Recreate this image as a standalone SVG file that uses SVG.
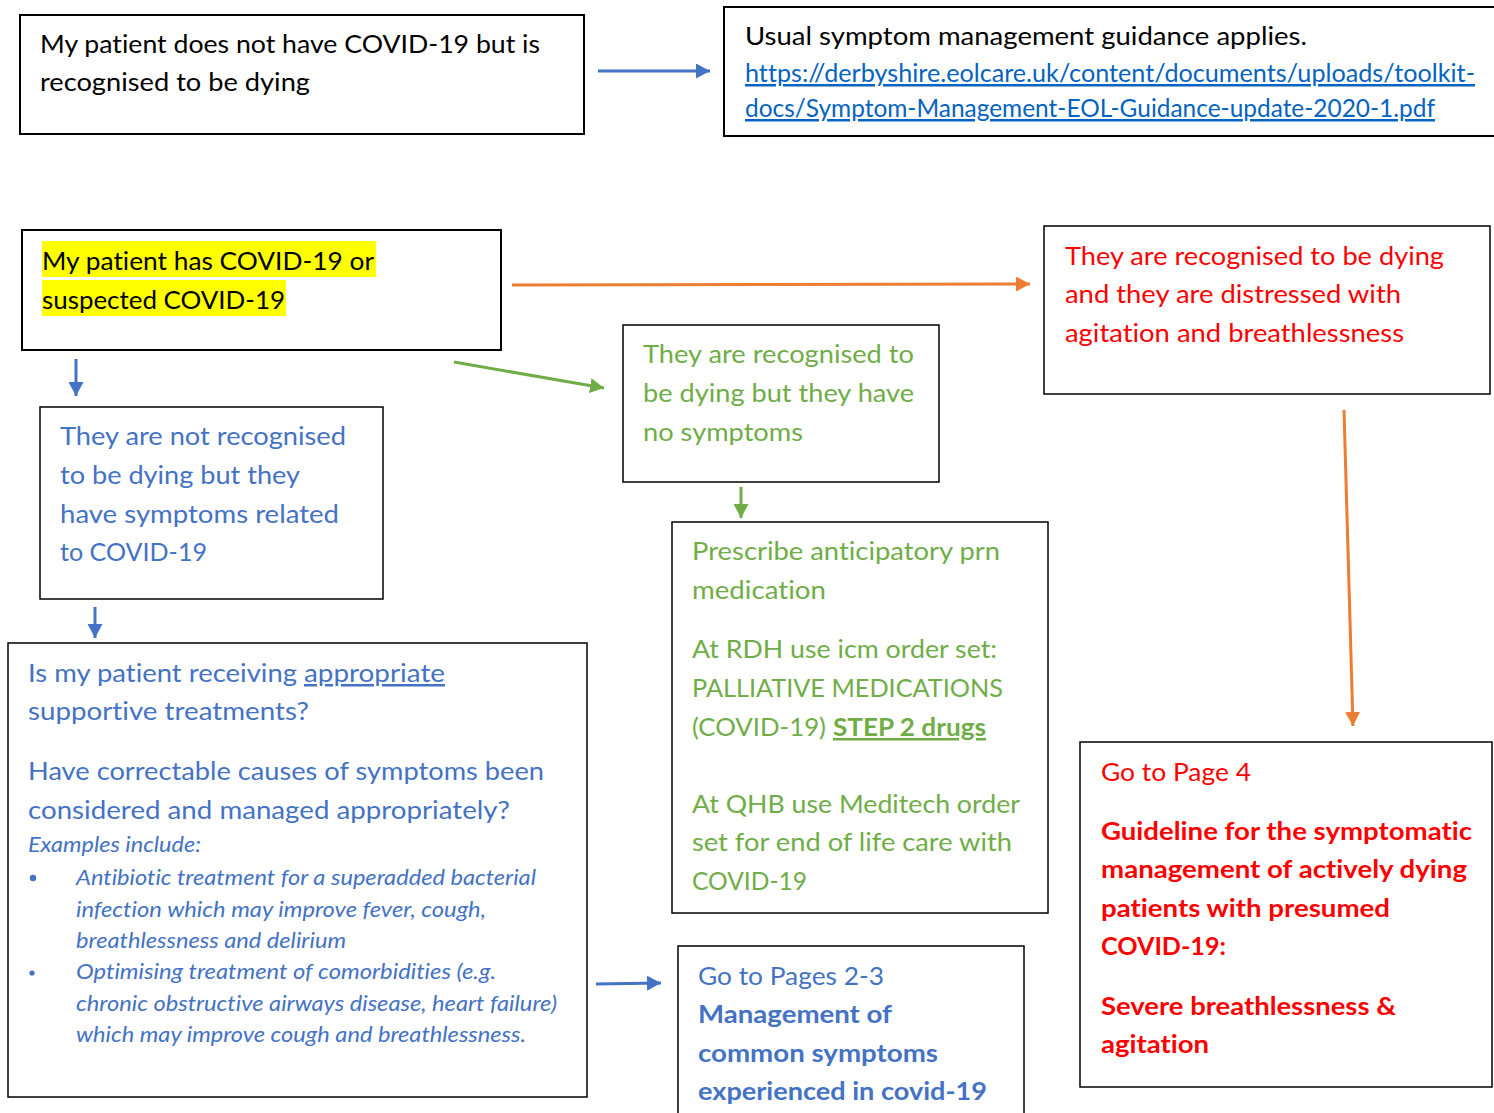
<svg xmlns="http://www.w3.org/2000/svg" width="1494" height="1113" viewBox="0 0 1494 1113">
<style>
text{font-family:Lato,"Open Sans","Liberation Sans",sans-serif;font-size:25px;font-variant-ligatures:none}
.k{fill:#000}
.b{fill:#4472C4}
.g{fill:#70AD47}
.r{fill:#FF0000}
.l{fill:#0563C1;text-decoration:underline}
.bold{font-weight:bold}
.it{font-style:italic;font-size:20.5px}
.box{fill:#fff;stroke:#000;stroke-width:1.5}
.box2{fill:#fff;stroke:#000;stroke-width:2}
.cb{fill:none;stroke:#4472C4;stroke-width:3}
.co{fill:none;stroke:#ED7D31;stroke-width:3}
.cg{fill:none;stroke:#70AD47;stroke-width:3}
</style>
<defs>
<marker id="ab" markerUnits="userSpaceOnUse" markerWidth="15" markerHeight="15" refX="14" refY="7.5" orient="auto"><path d="M0,0 L14,7.5 L0,15 z" fill="#4472C4"/></marker>
<marker id="ao" markerUnits="userSpaceOnUse" markerWidth="15" markerHeight="15" refX="14" refY="7.5" orient="auto"><path d="M0,0 L14,7.5 L0,15 z" fill="#ED7D31"/></marker>
<marker id="ag" markerUnits="userSpaceOnUse" markerWidth="15" markerHeight="15" refX="14" refY="7.5" orient="auto"><path d="M0,0 L14,7.5 L0,15 z" fill="#70AD47"/></marker>
</defs>
<rect width="1494" height="1113" fill="#fff"/>

<g id="connectors">
<line class="cb" x1="598" y1="71" x2="710" y2="71" marker-end="url(#ab)"/>
<line class="co" x1="512" y1="285" x2="1030" y2="284" marker-end="url(#ao)"/>
<line class="cb" x1="76" y1="359" x2="76" y2="396" marker-end="url(#ab)"/>
<line class="cg" x1="454" y1="362" x2="604" y2="388" marker-end="url(#ag)"/>
<line class="cb" x1="95" y1="607" x2="95" y2="638" marker-end="url(#ab)"/>
<line class="cg" x1="741" y1="487" x2="741" y2="518" marker-end="url(#ag)"/>
<line class="co" x1="1344" y1="410" x2="1353" y2="726" marker-end="url(#ao)"/>
<line class="cb" x1="596" y1="984" x2="661" y2="983" marker-end="url(#ab)"/>
</g>

<g id="node-no-covid">
<rect class="box2" x="20" y="15" width="564" height="119"/>
<text class="k" x="40" y="53" textLength="500" lengthAdjust="spacingAndGlyphs">My patient does not have COVID-19 but is</text>
<text class="k" x="40" y="91" textLength="270" lengthAdjust="spacingAndGlyphs">recognised to be dying</text>
</g>

<g id="node-usual-guidance">
<rect class="box2" x="724" y="7" width="780" height="129"/>
<text class="k" x="745" y="45" textLength="562" lengthAdjust="spacingAndGlyphs">Usual symptom management guidance applies.</text>
<text class="l" x="745" y="82" textLength="730" lengthAdjust="spacingAndGlyphs">https://derbyshire.eolcare.uk/content/documents/uploads/toolkit-</text>
<text class="l" x="745" y="117" textLength="690" lengthAdjust="spacingAndGlyphs">docs/Symptom-Management-EOL-Guidance-update-2020-1.pdf</text>
</g>

<g id="node-has-covid">
<rect class="box2" x="22" y="230" width="479" height="120"/>
<rect x="42" y="241" width="334" height="36" fill="#FFFF00"/>
<rect x="42" y="280" width="244" height="36" fill="#FFFF00"/>
<text class="k" x="42" y="270" textLength="332" lengthAdjust="spacingAndGlyphs">My patient has COVID-19 or</text>
<text class="k" x="42" y="309" textLength="243" lengthAdjust="spacingAndGlyphs">suspected COVID-19</text>
</g>

<g id="node-distressed">
<rect class="box" x="1044" y="226" width="446" height="168"/>
<text class="r" x="1065" y="265" textLength="379" lengthAdjust="spacingAndGlyphs">They are recognised to be dying</text>
<text class="r" x="1065" y="303" textLength="336" lengthAdjust="spacingAndGlyphs">and they are distressed with</text>
<text class="r" x="1065" y="342" textLength="339" lengthAdjust="spacingAndGlyphs">agitation and breathlessness</text>
</g>

<g id="node-no-symptoms">
<rect class="box" x="623" y="325" width="316" height="157"/>
<text class="g" x="643" y="363" textLength="271" lengthAdjust="spacingAndGlyphs">They are recognised to</text>
<text class="g" x="643" y="402" textLength="271" lengthAdjust="spacingAndGlyphs">be dying but they have</text>
<text class="g" x="643" y="441" textLength="160" lengthAdjust="spacingAndGlyphs">no symptoms</text>
</g>

<g id="node-not-dying">
<rect class="box" x="40" y="407" width="343" height="192"/>
<text class="b" x="60" y="445" textLength="286" lengthAdjust="spacingAndGlyphs">They are not recognised</text>
<text class="b" x="60" y="484" textLength="240" lengthAdjust="spacingAndGlyphs">to be dying but they</text>
<text class="b" x="60" y="523" textLength="279" lengthAdjust="spacingAndGlyphs">have symptoms related</text>
<text class="b" x="60" y="561" textLength="147" lengthAdjust="spacingAndGlyphs">to COVID-19</text>
</g>

<g id="node-supportive">
<rect class="box" x="8" y="643" width="579" height="454"/>
<text class="b" x="28" y="682" textLength="269" lengthAdjust="spacingAndGlyphs">Is my patient receiving</text>
<text class="b" x="304" y="682" textLength="141" lengthAdjust="spacingAndGlyphs" text-decoration="underline">appropriate</text>
<text class="b" x="28" y="720" textLength="281" lengthAdjust="spacingAndGlyphs">supportive treatments?</text>
<text class="b" x="28" y="780" textLength="516" lengthAdjust="spacingAndGlyphs">Have correctable causes of symptoms been</text>
<text class="b" x="28" y="819" textLength="482" lengthAdjust="spacingAndGlyphs">considered and managed appropriately?</text>
<text class="b it" x="28" y="852" textLength="173" lengthAdjust="spacingAndGlyphs">Examples include:</text>
<circle cx="33" cy="878" r="3.2" fill="#4472C4"/>
<circle cx="32" cy="973" r="2.6" fill="#4472C4"/>
<text class="b it" x="76" y="885" textLength="460" lengthAdjust="spacingAndGlyphs">Antibiotic treatment for a superadded bacterial</text>
<text class="b it" x="76" y="917" textLength="410" lengthAdjust="spacingAndGlyphs">infection which may improve fever, cough,</text>
<text class="b it" x="76" y="948" textLength="270" lengthAdjust="spacingAndGlyphs">breathlessness and delirium</text>
<text class="b it" x="76" y="979" textLength="420" lengthAdjust="spacingAndGlyphs">Optimising treatment of comorbidities (e.g.</text>
<text class="b it" x="76" y="1011" textLength="481" lengthAdjust="spacingAndGlyphs">chronic obstructive airways disease, heart failure)</text>
<text class="b it" x="76" y="1042" textLength="450" lengthAdjust="spacingAndGlyphs">which may improve cough and breathlessness.</text>
</g>

<g id="node-prescribe">
<rect class="box" x="672" y="522" width="376" height="391"/>
<text class="g" x="692" y="560" textLength="308" lengthAdjust="spacingAndGlyphs">Prescribe anticipatory prn</text>
<text class="g" x="692" y="599" textLength="134" lengthAdjust="spacingAndGlyphs">medication</text>
<text class="g" x="692" y="658" textLength="305" lengthAdjust="spacingAndGlyphs">At RDH use icm order set:</text>
<text class="g" x="692" y="697" textLength="311" lengthAdjust="spacingAndGlyphs">PALLIATIVE MEDICATIONS</text>
<text class="g" x="692" y="736" textLength="134" lengthAdjust="spacingAndGlyphs">(COVID-19)</text>
<text class="g bold" x="833" y="736" textLength="153" lengthAdjust="spacingAndGlyphs" text-decoration="underline">STEP 2 drugs</text>
<text class="g" x="692" y="813" textLength="328" lengthAdjust="spacingAndGlyphs">At QHB use Meditech order</text>
<text class="g" x="692" y="851" textLength="320" lengthAdjust="spacingAndGlyphs">set for end of life care with</text>
<text class="g" x="692" y="890" textLength="115" lengthAdjust="spacingAndGlyphs">COVID-19</text>
</g>

<g id="node-pages-2-3">
<rect class="box" x="678" y="946" width="346" height="180"/>
<text class="b" x="698" y="985" textLength="186" lengthAdjust="spacingAndGlyphs">Go to Pages 2-3</text>
<text class="b bold" x="698" y="1023" textLength="194" lengthAdjust="spacingAndGlyphs">Management of</text>
<text class="b bold" x="698" y="1062" textLength="240" lengthAdjust="spacingAndGlyphs">common symptoms</text>
<text class="b bold" x="698" y="1100" textLength="289" lengthAdjust="spacingAndGlyphs">experienced in covid-19</text>
</g>

<g id="node-page-4">
<rect class="box" x="1080" y="742" width="412" height="345"/>
<text class="r" x="1101" y="781" textLength="150" lengthAdjust="spacingAndGlyphs">Go to Page 4</text>
<text class="r bold" x="1101" y="840" textLength="371" lengthAdjust="spacingAndGlyphs">Guideline for the symptomatic</text>
<text class="r bold" x="1101" y="878" textLength="366" lengthAdjust="spacingAndGlyphs">management of actively dying</text>
<text class="r bold" x="1101" y="917" textLength="289" lengthAdjust="spacingAndGlyphs">patients with presumed</text>
<text class="r bold" x="1101" y="955" textLength="125" lengthAdjust="spacingAndGlyphs">COVID-19:</text>
<text class="r bold" x="1101" y="1015" textLength="295" lengthAdjust="spacingAndGlyphs">Severe breathlessness &amp;</text>
<text class="r bold" x="1101" y="1053" textLength="108" lengthAdjust="spacingAndGlyphs">agitation</text>
</g>
</svg>
